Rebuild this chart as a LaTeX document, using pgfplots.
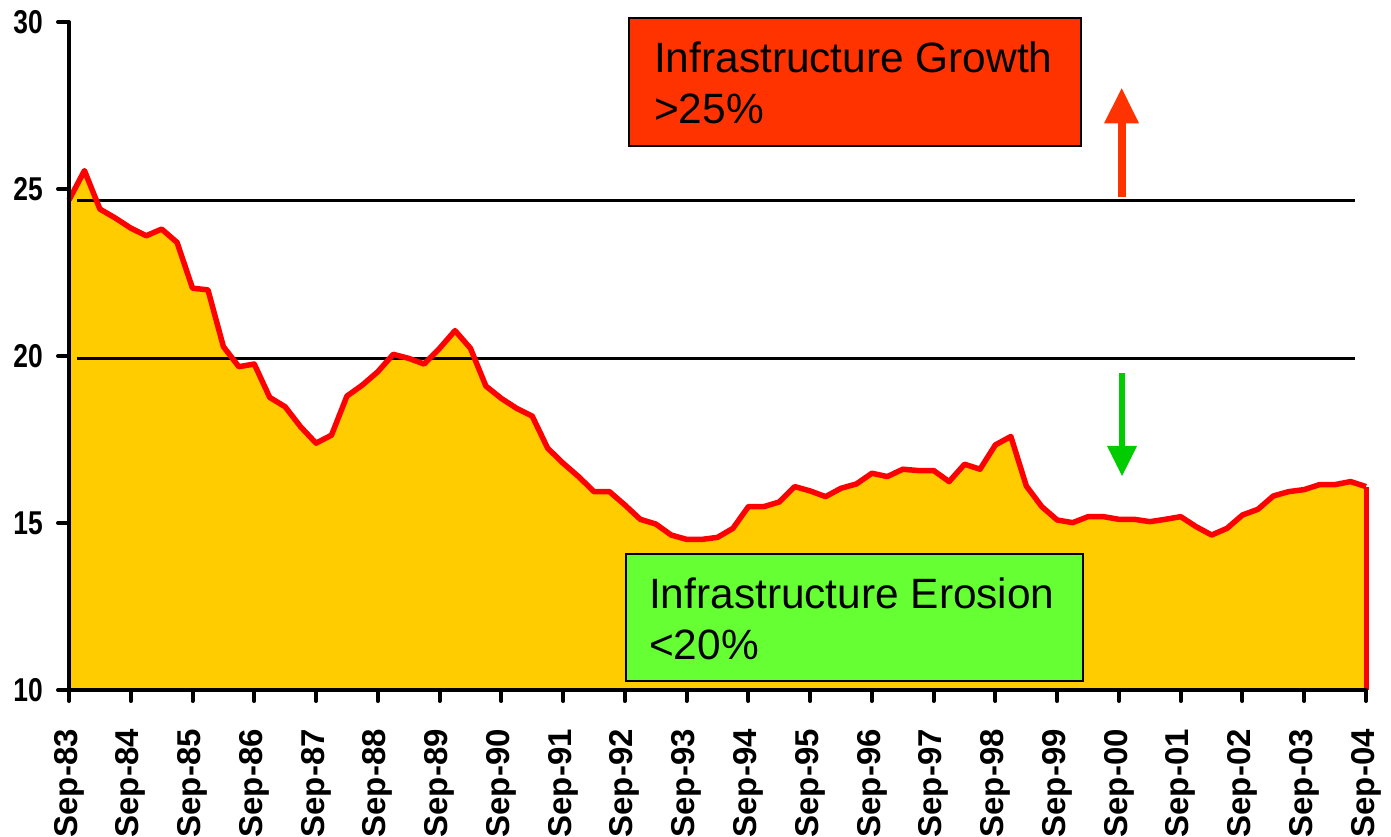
\documentclass[border=0pt]{standalone}
\usepackage{pgfplots}
\pgfplotsset{compat=1.18}
\usepackage{fontspec}
\setmainfont{Liberation Sans}
\newfontfamily\narrowfont{Liberation Sans}[FakeStretch=0.8]
\definecolor{areafill}{HTML}{FFCC00}
\definecolor{linered}{HTML}{FF0000}
\definecolor{growthred}{HTML}{FF3300}
\definecolor{erosiongreen}{HTML}{66FF33}
\definecolor{arrowgreen}{HTML}{00CC00}
\pgfplotstableread{
q v
0 24.67
1 25.55
2 24.40
3 24.13
4 23.83
5 23.60
6 23.80
7 23.40
8 22.03
9 21.98
10 20.28
11 19.68
12 19.76
13 18.76
14 18.48
15 17.88
16 17.39
17 17.63
18 18.80
19 19.13
20 19.53
21 20.05
22 19.93
23 19.76
24 20.23
25 20.76
26 20.23
27 19.10
28 18.73
29 18.43
30 18.20
31 17.24
32 16.79
33 16.39
34 15.94
35 15.94
36 15.54
37 15.11
38 14.97
39 14.64
40 14.51
41 14.51
42 14.57
43 14.84
44 15.49
45 15.49
46 15.63
47 16.09
48 15.96
49 15.79
50 16.04
51 16.17
52 16.49
53 16.39
54 16.61
55 16.57
56 16.57
57 16.24
58 16.76
59 16.61
60 17.34
61 17.59
62 16.11
63 15.49
64 15.09
65 15.01
66 15.19
67 15.19
68 15.11
69 15.11
70 15.04
71 15.11
72 15.19
73 14.89
74 14.64
75 14.84
76 15.24
77 15.41
78 15.81
79 15.94
80 16.00
81 16.15
82 16.15
83 16.24
84 16.09
}\datatable
\begin{document}
\begin{tikzpicture}[x=1pt,y=1pt]
\useasboundingbox (0,0) rectangle (1391,836);
\begin{axis}[
  scale only axis,
  width=1297pt, height=668pt,
  at={(69pt,146pt)}, anchor=south west,
  xmin=0, xmax=84, ymin=10, ymax=30,
  enlargelimits=false,
  clip=false,
  axis on top,
  axis x line=bottom, axis y line=left,
  axis line style={-, line width=4pt, black},
  tick align=outside,
  major tick length=11pt,
  tick style={line width=4pt, black, line cap=round},
  xtick={0,4,...,84},
  xticklabels={Sep-83,Sep-84,Sep-85,Sep-86,Sep-87,Sep-88,Sep-89,Sep-90,Sep-91,Sep-92,Sep-93,Sep-94,Sep-95,Sep-96,Sep-97,Sep-98,Sep-99,Sep-00,Sep-01,Sep-02,Sep-03,Sep-04},
  xticklabel style={rotate=90, anchor=east, inner sep=0pt, font=\fontsize{33}{33}\selectfont\bfseries},
  xticklabel shift=28pt,
  ytick={10,15,20,25,30},
  yticklabels={10,15,20,25,30},
  yticklabel style={anchor=east, inner sep=0pt, font=\fontsize{33}{33}\selectfont\narrowfont\bfseries},
  yticklabel shift=15pt,
  minor tick num=0,
]
\addplot[fill=areafill, draw=none] table[x=q,y=v]{\datatable} \closedcycle;
\draw[black, line width=2.5pt] (axis cs:0.52,24.65) -- (axis cs:83.3,24.65);
\draw[black, line width=2.5pt] (axis cs:0.52,19.93) -- (axis cs:83.3,19.93);
\addplot[linered, line width=5.5pt, line join=round] table[x=q,y=v]{\datatable};
\addplot[linered, line width=5pt] coordinates {(84,16.09) (84,10)};
\end{axis}
% Growth box
\filldraw[fill=growthred, draw=black, line width=2.7pt] (629,690) rectangle (1081,818);
\node[anchor=base west, inner sep=0pt, font=\fontsize{42.4}{51}\selectfont] at (654,763.3) {Infrastructure Growth};
\node[anchor=base west, inner sep=0pt, font=\fontsize{42.4}{51}\selectfont] at (654,712) {>25\%};
% Erosion box
\filldraw[fill=erosiongreen, draw=black, line width=2.7pt] (626,155) rectangle (1083,282);
\node[anchor=base west, inner sep=0pt, font=\fontsize{42.4}{51}\selectfont] at (649,228) {Infrastructure Erosion};
\node[anchor=base west, inner sep=0pt, font=\fontsize{42.4}{51}\selectfont] at (649,177) {<20\%};
% Arrows
\fill[growthred] (1117.7,639) rectangle (1125.7,713.5);
\fill[growthred] (1104,712.7) -- (1139,712.7) -- (1121.7,747.7) -- cycle;
\fill[arrowgreen] (1119,389) rectangle (1125,463);
\fill[arrowgreen] (1107,390) -- (1137,390) -- (1122,360) -- cycle;
\end{tikzpicture}
\end{document}
